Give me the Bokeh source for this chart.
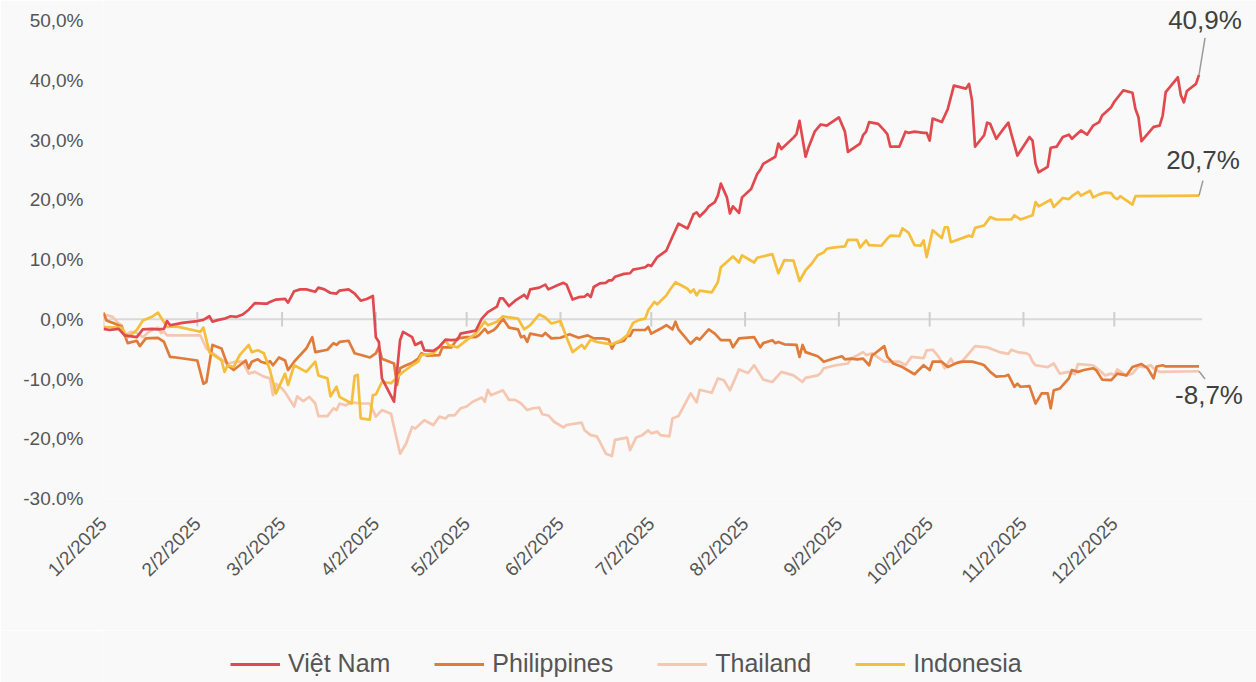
import pandas as pd
from math import pi
from bokeh.plotting import figure
from bokeh.layouts import column
from bokeh.models import (Range1d, FixedTicker, DatetimeTickFormatter, Legend,
                          LegendItem, Label)
from bokeh.embed import file_html
from bokeh.resources import INLINE

# ---------------- data (cumulative return, %) ----------------
vn_dates = ["2025-01-02","2025-01-04","2025-01-07","2025-01-09","2025-01-13","2025-01-15","2025-01-18","2025-01-20",
    "2025-01-22","2025-01-23","2025-01-24","2025-01-28","2025-02-02","2025-02-04","2025-02-06","2025-02-07","2025-02-09",
    "2025-02-11","2025-02-13","2025-02-15","2025-02-17","2025-02-19","2025-02-21","2025-02-24","2025-02-25","2025-02-26",
    "2025-02-28","2025-03-03","2025-03-04","2025-03-06","2025-03-08","2025-03-10","2025-03-13","2025-03-14","2025-03-16",
    "2025-03-18","2025-03-20","2025-03-21","2025-03-24","2025-03-26","2025-03-28","2025-03-30","2025-04-01","2025-04-02",
    "2025-04-03","2025-04-04","2025-04-08","2025-04-10","2025-04-11","2025-04-14","2025-04-15","2025-04-17","2025-04-18",
    "2025-04-21","2025-04-23","2025-04-25","2025-04-27","2025-04-29","2025-04-30","2025-05-02","2025-05-05","2025-05-07",
    "2025-05-09","2025-05-12","2025-05-13","2025-05-14","2025-05-16","2025-05-18","2025-05-21","2025-05-22","2025-05-23",
    "2025-05-26","2025-05-28","2025-05-29","2025-06-01","2025-06-03","2025-06-04","2025-06-06","2025-06-08","2025-06-10",
    "2025-06-11","2025-06-12","2025-06-13","2025-06-15","2025-06-17","2025-06-18","2025-06-19","2025-06-20","2025-06-23",
    "2025-06-25","2025-06-26","2025-06-28","2025-06-30","2025-07-01","2025-07-02","2025-07-04","2025-07-07","2025-07-09",
    "2025-07-11","2025-07-14","2025-07-16","2025-07-17","2025-07-18","2025-07-20","2025-07-21","2025-07-23","2025-07-24",
    "2025-07-25","2025-07-27","2025-07-28","2025-07-29","2025-07-31","2025-08-01","2025-08-04","2025-08-06","2025-08-07",
    "2025-08-08","2025-08-12","2025-08-13","2025-08-14","2025-08-18","2025-08-19","2025-08-20","2025-08-22","2025-08-23",
    "2025-08-25","2025-08-27","2025-08-29","2025-09-02","2025-09-04","2025-09-05","2025-09-09","2025-09-10","2025-09-11",
    "2025-09-12","2025-09-15","2025-09-17","2025-09-18","2025-09-19","2025-09-22","2025-09-24","2025-09-25","2025-09-27",
    "2025-09-30","2025-10-01","2025-10-02","2025-10-03","2025-10-06","2025-10-08","2025-10-10","2025-10-14","2025-10-15",
    "2025-10-16","2025-10-17","2025-10-20","2025-10-21","2025-10-22","2025-10-24","2025-10-26","2025-10-28","2025-10-29",
    "2025-10-31","2025-11-04","2025-11-05","2025-11-06","2025-11-07","2025-11-10","2025-11-11","2025-11-13","2025-11-15",
    "2025-11-17","2025-11-18","2025-11-21","2025-11-23","2025-11-25","2025-11-27","2025-11-28","2025-12-01","2025-12-02",
    "2025-12-05","2025-12-08","2025-12-09","2025-12-10","2025-12-11","2025-12-15","2025-12-17","2025-12-18","2025-12-19",
    "2025-12-23","2025-12-24","2025-12-25","2025-12-26","2025-12-29","2025-12-30"]
vn_vals = [-1.6,-1.8,-1.6,-2.7,-3.0,-1.7,-1.6,-1.7,
    -1.6,-0.3,-1.0,-0.6,-0.3,-0.1,0.5,-0.4,-0.1,
    0.1,0.5,0.4,0.8,1.6,2.7,2.6,2.6,2.9,
    3.3,3.4,2.8,4.7,5.0,5.0,4.6,5.3,5.0,
    4.4,4.3,4.8,5.0,4.3,3.1,3.4,3.9,-3.0,
    -3.8,-9.9,-13.8,-3.5,-2.1,-3.0,-4.3,-3.8,-5.2,
    -5.3,-4.6,-3.4,-3.5,-3.4,-2.4,-2.2,-1.9,0.1,
    1.2,2.1,3.5,3.5,2.2,3.1,4.1,3.5,5.0,
    5.3,5.8,5.0,5.7,6.1,5.8,3.3,3.7,3.8,
    4.2,3.7,5.4,6.0,6.1,6.5,6.5,7.1,7.6,
    7.7,8.3,8.5,8.7,9.1,8.9,10.4,11.5,13.8,
    16.0,15.2,17.6,17.9,17.2,18.2,18.9,19.6,20.7,
    22.7,20.4,17.7,18.9,17.8,20.4,21.8,24.3,25.0,
    26.0,27.2,29.4,28.5,30.4,31.0,33.2,27.2,28.8,
    31.4,32.6,32.4,33.8,31.4,28.0,29.4,30.8,31.4,
    33.0,32.7,31.6,31.0,28.9,28.9,31.4,31.2,31.4,
    31.2,31.2,29.9,33.6,33.0,35.2,39.1,38.6,39.4,
    36.6,28.9,30.8,32.9,32.7,30.2,31.6,32.9,31.0,
    27.4,30.5,29.9,26.0,24.6,25.5,28.7,28.9,30.5,
    30.9,30.2,31.6,30.9,32.4,33.0,34.1,35.5,36.4,
    38.3,37.9,35.2,33.8,29.8,32.2,32.4,34.1,38.0,
    40.5,37.5,36.3,38.2,39.4,40.9]

ph_dates = ["2025-01-02","2025-01-03","2025-01-05","2025-01-08","2025-01-10","2025-01-13","2025-01-14","2025-01-16",
    "2025-01-20","2025-01-22","2025-01-24","2025-01-26","2025-02-02","2025-02-04","2025-02-05","2025-02-07","2025-02-10",
    "2025-02-12","2025-02-14","2025-02-16","2025-02-18","2025-02-19","2025-02-20","2025-02-22","2025-02-23","2025-02-25",
    "2025-02-26","2025-02-27","2025-03-01","2025-03-03","2025-03-04","2025-03-06","2025-03-10","2025-03-12","2025-03-13",
    "2025-03-17","2025-03-19","2025-03-20","2025-03-21","2025-03-24","2025-03-26","2025-03-29","2025-03-31","2025-04-02",
    "2025-04-03","2025-04-04","2025-04-08","2025-04-09","2025-04-10","2025-04-12","2025-04-14","2025-04-16","2025-04-17",
    "2025-04-19","2025-04-23","2025-04-24","2025-04-27","2025-04-29","2025-05-02","2025-05-05","2025-05-06","2025-05-08",
    "2025-05-09","2025-05-11","2025-05-12","2025-05-14","2025-05-16","2025-05-19","2025-05-20","2025-05-21","2025-05-22",
    "2025-05-23","2025-05-27","2025-05-28","2025-05-30","2025-06-02","2025-06-05","2025-06-08","2025-06-11","2025-06-13",
    "2025-06-16","2025-06-18","2025-06-19","2025-06-20","2025-06-23","2025-06-24","2025-06-25","2025-06-26","2025-06-30",
    "2025-07-01","2025-07-02","2025-07-05","2025-07-07","2025-07-09","2025-07-10","2025-07-11","2025-07-15","2025-07-17",
    "2025-07-18","2025-07-21","2025-07-23","2025-07-25","2025-07-28","2025-07-29","2025-07-31","2025-08-05","2025-08-07",
    "2025-08-08","2025-08-11","2025-08-12","2025-08-13","2025-08-15","2025-08-19","2025-08-20","2025-08-21","2025-08-22",
    "2025-08-26","2025-08-27","2025-08-28","2025-08-31","2025-09-03","2025-09-04","2025-09-06","2025-09-08","2025-09-10",
    "2025-09-12","2025-09-13","2025-09-14","2025-09-17","2025-09-18","2025-09-20","2025-09-23","2025-09-27","2025-09-30",
    "2025-10-02","2025-10-03","2025-10-06","2025-10-08","2025-10-11","2025-10-13","2025-10-16","2025-10-19","2025-10-20",
    "2025-10-22","2025-10-24","2025-10-27","2025-10-28","2025-10-30","2025-10-31","2025-11-01","2025-11-04","2025-11-06",
    "2025-11-08","2025-11-10","2025-11-11","2025-11-12","2025-11-14","2025-11-17","2025-11-18","2025-11-20","2025-11-22",
    "2025-11-25","2025-11-26","2025-11-28","2025-12-01","2025-12-03","2025-12-06","2025-12-08","2025-12-11","2025-12-13",
    "2025-12-15","2025-12-16","2025-12-18","2025-12-19","2025-12-30"]
ph_vals = [1.1,-0.2,-0.6,-1.2,-4.0,-3.6,-4.5,-3.2,
    -3.1,-3.8,-6.3,-6.4,-6.9,-10.8,-10.5,-4.3,-4.9,
    -7.7,-8.5,-7.7,-6.9,-8.2,-7.1,-6.7,-7.1,-7.4,
    -7.0,-7.7,-6.4,-6.9,-8.5,-7.1,-4.9,-3.0,-5.5,
    -5.1,-4.0,-4.3,-3.8,-3.6,-5.7,-6.1,-6.4,-5.7,
    -4.6,-6.6,-7.4,-11.0,-8.2,-7.7,-7.3,-6.6,-5.7,
    -6.1,-6.0,-4.7,-4.7,-3.2,-3.0,-3.0,-2.7,-1.6,
    -2.3,-1.8,-1.3,0.1,-1.4,-1.7,-3.0,-2.8,-3.8,
    -2.4,-2.8,-2.3,-3.2,-3.1,-2.5,-3.1,-2.7,-3.2,
    -3.2,-3.4,-4.9,-4.0,-3.6,-2.8,-2.8,-1.8,-1.8,
    -1.3,-2.4,-1.6,-1.0,-1.7,-0.4,-1.7,-4.1,-3.1,
    -3.4,-1.7,-2.4,-3.5,-3.5,-4.7,-3.2,-3.0,-4.7,
    -4.0,-3.5,-4.0,-3.8,-4.2,-4.3,-6.3,-4.3,-5.5,
    -6.2,-6.6,-7.1,-6.6,-6.2,-6.7,-6.6,-6.7,-6.6,
    -7.7,-6.0,-5.7,-4.5,-6.3,-7.4,-8.0,-9.2,-7.7,
    -8.5,-7.1,-7.1,-8.0,-7.3,-7.1,-7.1,-7.5,-7.7,
    -8.8,-9.6,-9.5,-9.3,-11.3,-10.8,-11.3,-11.2,-14.1,
    -12.4,-12.4,-14.9,-11.9,-11.6,-9.9,-8.5,-8.8,-8.5,
    -8.2,-8.5,-10.1,-10.2,-9.1,-9.4,-8.0,-7.5,-8.2,
    -9.9,-7.9,-7.7,-7.9,-7.9]

th_dates = ["2025-01-02","2025-01-03","2025-01-05","2025-01-07","2025-01-08","2025-01-09","2025-01-11","2025-01-13",
    "2025-01-15","2025-01-17","2025-01-19","2025-01-20","2025-01-21","2025-01-22","2025-01-23","2025-01-26","2025-02-03",
    "2025-02-05","2025-02-08","2025-02-11","2025-02-12","2025-02-15","2025-02-17","2025-02-19","2025-02-21","2025-02-24",
    "2025-02-26","2025-02-27","2025-02-28","2025-03-02","2025-03-03","2025-03-04","2025-03-06","2025-03-07","2025-03-09",
    "2025-03-11","2025-03-13","2025-03-14","2025-03-17","2025-03-19","2025-03-20","2025-03-21","2025-03-23","2025-03-25",
    "2025-03-28","2025-03-31","2025-04-02","2025-04-04","2025-04-07","2025-04-10","2025-04-12","2025-04-14","2025-04-15",
    "2025-04-18","2025-04-21","2025-04-23","2025-04-25","2025-04-26","2025-04-28","2025-04-30","2025-05-02","2025-05-04",
    "2025-05-07","2025-05-08","2025-05-09","2025-05-10","2025-05-14","2025-05-16","2025-05-18","2025-05-20","2025-05-22",
    "2025-05-24","2025-05-26","2025-05-27","2025-05-29","2025-05-31","2025-06-03","2025-06-04","2025-06-09","2025-06-10",
    "2025-06-12","2025-06-14","2025-06-15","2025-06-17","2025-06-19","2025-06-20","2025-06-24","2025-06-25","2025-06-27",
    "2025-06-29","2025-07-01","2025-07-02","2025-07-04","2025-07-05","2025-07-08","2025-07-09","2025-07-11","2025-07-15",
    "2025-07-17","2025-07-18","2025-07-22","2025-07-24","2025-07-26","2025-07-28","2025-07-31","2025-08-03","2025-08-05",
    "2025-08-08","2025-08-11","2025-08-14","2025-08-18","2025-08-21","2025-08-22","2025-08-26","2025-08-27","2025-08-28",
    "2025-09-01","2025-09-05","2025-09-06","2025-09-10","2025-09-11","2025-09-13","2025-09-17","2025-09-22","2025-09-24",
    "2025-09-26","2025-09-30","2025-10-01","2025-10-03","2025-10-05","2025-10-07","2025-10-09","2025-10-10","2025-10-13",
    "2025-10-15","2025-10-17","2025-10-21","2025-10-25","2025-10-28","2025-10-29","2025-10-31","2025-11-03","2025-11-04",
    "2025-11-05","2025-11-06","2025-11-10","2025-11-12","2025-11-14","2025-11-17","2025-11-19","2025-11-20","2025-11-25",
    "2025-11-27","2025-11-29","2025-12-01","2025-12-02","2025-12-03","2025-12-05","2025-12-06","2025-12-08","2025-12-10",
    "2025-12-12","2025-12-14","2025-12-15","2025-12-17","2025-12-30"]
th_vals = [0.4,0.7,0.4,-0.7,-1.0,-2.7,-2.1,-2.3,
    -3.0,-2.1,-1.6,-1.4,-2.3,-2.1,-2.7,-2.7,-2.7,
    -4.9,-6.0,-7.1,-7.4,-7.1,-7.1,-9.1,-8.8,-9.6,
    -9.9,-12.7,-10.8,-11.6,-12.2,-13.0,-14.6,-12.9,-13.7,
    -13.0,-14.1,-16.2,-16.2,-14.9,-15.2,-14.1,-14.4,-13.9,
    -14.1,-14.1,-16.3,-15.2,-15.8,-22.5,-20.8,-18.0,-18.3,
    -16.9,-17.7,-16.3,-16.6,-16.1,-16.1,-14.9,-14.6,-13.8,
    -13.1,-13.8,-11.8,-12.7,-11.9,-13.5,-13.5,-14.1,-15.2,
    -14.9,-14.8,-15.9,-16.1,-17.2,-18.1,-17.7,-17.3,-18.6,
    -19.4,-19.6,-20.5,-22.5,-22.9,-20.2,-19.8,-21.9,-19.8,
    -19.4,-18.6,-19.1,-18.8,-19.4,-19.6,-16.6,-16.2,-12.4,
    -13.9,-11.8,-12.3,-9.9,-10.2,-11.9,-8.4,-9.0,-7.7,
    -10.1,-10.5,-8.8,-9.4,-10.5,-9.8,-9.4,-9.0,-8.2,
    -7.7,-7.4,-6.6,-5.5,-6.0,-5.7,-7.1,-7.1,-7.7,
    -6.3,-6.5,-5.2,-5.1,-6.3,-8.2,-6.6,-7.5,-6.9,
    -5.7,-4.5,-4.7,-5.5,-5.8,-5.1,-5.5,-5.7,-6.0,
    -7.1,-7.7,-8.0,-7.4,-9.1,-8.8,-9.2,-7.5,-7.7,
    -8.5,-9.4,-9.1,-9.4,-8.4,-9.1,-9.4,-9.1,-7.9,
    -8.0,-7.7,-8.2,-8.8,-8.7]

id_dates = ["2025-01-02","2025-01-08","2025-01-10","2025-01-13","2025-01-15","2025-01-18","2025-01-20","2025-01-23",
    "2025-01-26","2025-02-03","2025-02-04","2025-02-06","2025-02-10","2025-02-11","2025-02-12","2025-02-14","2025-02-16",
    "2025-02-19","2025-02-20","2025-02-22","2025-02-24","2025-02-26","2025-02-28","2025-03-03","2025-03-04","2025-03-06",
    "2025-03-10","2025-03-13","2025-03-14","2025-03-17","2025-03-18","2025-03-20","2025-03-21","2025-03-25","2025-03-26",
    "2025-03-27","2025-03-28","2025-03-31","2025-04-01","2025-04-02","2025-04-04","2025-04-07","2025-04-11","2025-04-14",
    "2025-04-16","2025-04-17","2025-04-21","2025-04-23","2025-04-25","2025-04-26","2025-04-29","2025-05-02","2025-05-05",
    "2025-05-08","2025-05-09","2025-05-12","2025-05-14","2025-05-16","2025-05-19","2025-05-21","2025-05-23","2025-05-26",
    "2025-05-28","2025-05-30","2025-06-02","2025-06-04","2025-06-06","2025-06-09","2025-06-10","2025-06-12","2025-06-14",
    "2025-06-19","2025-06-22","2025-06-24","2025-06-26","2025-06-28","2025-06-30","2025-07-01","2025-07-03","2025-07-04",
    "2025-07-07","2025-07-08","2025-07-10","2025-07-14","2025-07-15","2025-07-16","2025-07-17","2025-07-18","2025-07-22",
    "2025-07-24","2025-07-25","2025-07-29","2025-07-31","2025-08-01","2025-08-05","2025-08-06","2025-08-11","2025-08-13",
    "2025-08-15","2025-08-18","2025-08-20","2025-08-22","2025-08-24","2025-08-26","2025-08-28","2025-08-29","2025-08-31",
    "2025-09-04","2025-09-05","2025-09-08","2025-09-09","2025-09-11","2025-09-12","2025-09-16","2025-09-18","2025-09-19",
    "2025-09-22","2025-09-23","2025-09-25","2025-09-27","2025-09-29","2025-09-30","2025-10-01","2025-10-03","2025-10-06",
    "2025-10-07","2025-10-08","2025-10-09","2025-10-15","2025-10-16","2025-10-17","2025-10-20","2025-10-22","2025-10-24",
    "2025-10-29","2025-10-30","2025-11-01","2025-11-05","2025-11-06","2025-11-07","2025-11-11","2025-11-12","2025-11-15",
    "2025-11-17","2025-11-18","2025-11-20","2025-11-21","2025-11-24","2025-11-25","2025-11-27","2025-11-29","2025-12-01",
    "2025-12-02","2025-12-03","2025-12-04","2025-12-06","2025-12-08","2025-12-09","2025-12-30"]
id_vals = [-1.3,-1.4,-3.0,-1.8,-0.2,0.4,1.1,-1.3,
    -1.2,-2.1,-1.4,-5.5,-6.9,-8.8,-7.7,-8.0,-6.0,
    -4.3,-5.5,-5.2,-5.7,-8.5,-12.4,-9.1,-11.0,-7.7,
    -8.8,-7.1,-9.4,-9.9,-12.9,-11.3,-13.0,-14.1,-9.5,
    -9.3,-16.6,-16.8,-12.7,-12.6,-10.5,-10.7,-8.8,-7.7,
    -7.1,-6.0,-5.7,-4.6,-3.5,-4.3,-4.7,-3.5,-2.4,
    -0.4,-1.0,-0.4,0.5,0.3,0.1,-1.7,-1.0,0.8,
    0.3,-0.7,-0.3,-3.0,-5.5,-4.3,-4.9,-3.4,-3.8,
    -4.2,-3.5,-2.7,-0.6,-0.1,0.1,1.5,2.9,2.5,
    4.0,4.8,6.2,5.1,4.5,5.0,4.0,4.8,4.5,
    6.2,8.7,10.5,9.5,10.7,9.5,10.3,10.9,7.7,
    9.9,9.8,6.4,8.2,9.3,10.7,11.2,11.8,12.0,
    12.2,13.3,13.3,12.0,13.2,12.4,12.3,13.5,14.0,
    13.9,15.2,14.5,12.4,12.3,13.2,10.4,14.9,13.6,
    15.4,15.4,12.9,14.0,13.8,15.3,15.7,17.1,16.7,
    16.7,17.4,16.7,17.4,19.6,18.9,20.0,18.8,20.3,
    20.1,20.6,21.3,20.7,21.5,20.4,20.9,21.2,21.1,
    20.4,20.1,20.6,19.9,19.2,20.6,20.7]

series_names = ["Việt Nam", "Philippines", "Thailand", "Indonesia"]
series_colors = ["#E04A4E", "#E07B3A", "#F5C6B0", "#F5BE3C"]
end_labels = ["40,9%", "20,7%", "-8,7%"]

x_tick_dates = ["2025-01-02","2025-02-02","2025-03-02","2025-04-02","2025-05-02","2025-06-02",
                "2025-07-02","2025-08-02","2025-09-02","2025-10-02","2025-11-02","2025-12-02"]
y_ticks = [-30, -20, -10, 0, 10, 20, 30, 40, 50]
y_tick_labels = ["-30.0%", "-20,0%", "-10,0%", "0,0%", "10,0%", "20,0%", "30,0%", "40,0%", "50,0%"]

axis_start, axis_end = "2025-01-02", "2025-12-31"
view_end = "2026-01-18"
y_view = (-30, 53.35)

# ---------------- main figure ----------------
FONT = "Liberation Sans"
BG = "#F9F9F9"
TXT = "#555555"

def ms(s):
    return pd.Timestamp(s).value / 1e6

p = figure(width=1256, height=630, x_axis_type="datetime",
           output_backend="svg", toolbar_location=None,
           x_range=Range1d(ms(axis_start), ms(view_end)),
           y_range=Range1d(*y_view),
           min_border_left=103, min_border_right=0,
           min_border_top=0, min_border_bottom=132)
p.background_fill_color = BG
p.border_fill_color = BG
p.outline_line_color = None
p.xgrid.visible = False
p.ygrid.visible = False

# zero line and month ticks
p.line(x=[pd.Timestamp(axis_start), pd.Timestamp(axis_end)], y=[0, 0],
       line_color="#D9D9D9", line_width=2)
tick_ts = [pd.Timestamp(d) for d in x_tick_dates]
p.segment(x0=tick_ts, y0=[-1.2] * len(tick_ts), x1=tick_ts, y1=[1.2] * len(tick_ts),
          line_color="#CFCFCF", line_width=2)

all_dates = [vn_dates, ph_dates, th_dates, id_dates]
all_vals = [vn_vals, ph_vals, th_vals, id_vals]
for idx in [2, 1, 3, 0]:
    p.line(x=pd.to_datetime(all_dates[idx]), y=all_vals[idx],
           line_color=series_colors[idx], line_width=2.7, line_join="round")

# axes
p.xaxis.ticker = FixedTicker(ticks=[ms(d) for d in x_tick_dates])
fmt = "%-m/%-d/%Y"
p.xaxis.formatter = DatetimeTickFormatter(days=fmt, months=fmt, years=fmt, hours=fmt,
                                          minutes=fmt, seconds=fmt, milliseconds=fmt,
                                          microseconds=fmt, minsec=fmt, hourmin=fmt)
p.xaxis.major_label_orientation = pi / 4
p.xaxis.axis_line_color = None
p.xaxis.major_tick_line_color = None
p.xaxis.major_tick_out = 0
p.xaxis.major_tick_in = 0
p.xaxis.minor_tick_line_color = None
p.xaxis.minor_tick_out = 0
p.xaxis.major_label_standoff = 22
p.xaxis.major_label_text_font = FONT
p.xaxis.major_label_text_font_size = "19px"
p.xaxis.major_label_text_color = TXT

p.yaxis.ticker = FixedTicker(ticks=y_ticks)
p.yaxis.major_label_overrides = {t: l for t, l in zip(y_ticks, y_tick_labels)}
p.yaxis.axis_line_color = None
p.yaxis.major_tick_line_color = None
p.yaxis.major_tick_out = 0
p.yaxis.major_tick_in = 0
p.yaxis.minor_tick_line_color = None
p.yaxis.minor_tick_out = 0
p.yaxis.major_label_standoff = 20
p.yaxis.major_label_text_font = FONT
p.yaxis.major_label_text_font_size = "19px"
p.yaxis.major_label_text_color = TXT

# end-value labels with leader lines
label_specs = [(0, end_labels[0], 6, 55, 2.0, 6.2),
               (3, end_labels[1], 4, 36, 1.3, 2.5),
               (2, end_labels[2], 10, -24, 2.0, -1.3)]
for idx, txt, xo, yo, ddays, dv in label_specs:
    lx = pd.Timestamp(all_dates[idx][-1])
    ly = all_vals[idx][-1]
    p.segment(x0=[lx], y0=[ly], x1=[lx + pd.Timedelta(days=ddays)], y1=[ly + dv],
              line_color="#9A9A9A", line_width=1.5)
    p.add_layout(Label(x=ms(all_dates[idx][-1]), y=ly, text=txt, x_offset=xo, y_offset=yo,
                       text_align="center", text_baseline="alphabetic",
                       text_font=FONT, text_font_size="26px", text_color="#404040"))

# ---------------- legend strip (frame aligned with the main plot) ----------------
lg = figure(width=1256, height=52, x_axis_type="datetime", output_backend="svg",
            toolbar_location=None, x_range=Range1d(0, 1), y_range=Range1d(0, 1),
            min_border_left=0, min_border_right=0, min_border_top=0, min_border_bottom=0)
lg.background_fill_color = BG
lg.border_fill_color = BG
lg.outline_line_color = None
lg.axis.visible = False
lg.grid.visible = False
# legend keys: the same series, which fall outside this strip's ranges
keys = [lg.line(x=pd.to_datetime(all_dates[i]), y=all_vals[i], line_color=series_colors[i],
                line_width=3) for i in range(4)]
legend = Legend(items=[LegendItem(label=n, renderers=[k]) for n, k in zip(series_names, keys)],
                orientation="horizontal", location=(127, 4),
                glyph_width=50, glyph_height=22, label_standoff=8, spacing=44,
                padding=0, margin=0, border_line_color=None, background_fill_alpha=0,
                label_text_font=FONT, label_text_font_size="25px", label_text_color=TXT)
lg.add_layout(legend)

layout = column(p, lg, spacing=0)
open("out.html", "w").write(file_html(layout, INLINE))
